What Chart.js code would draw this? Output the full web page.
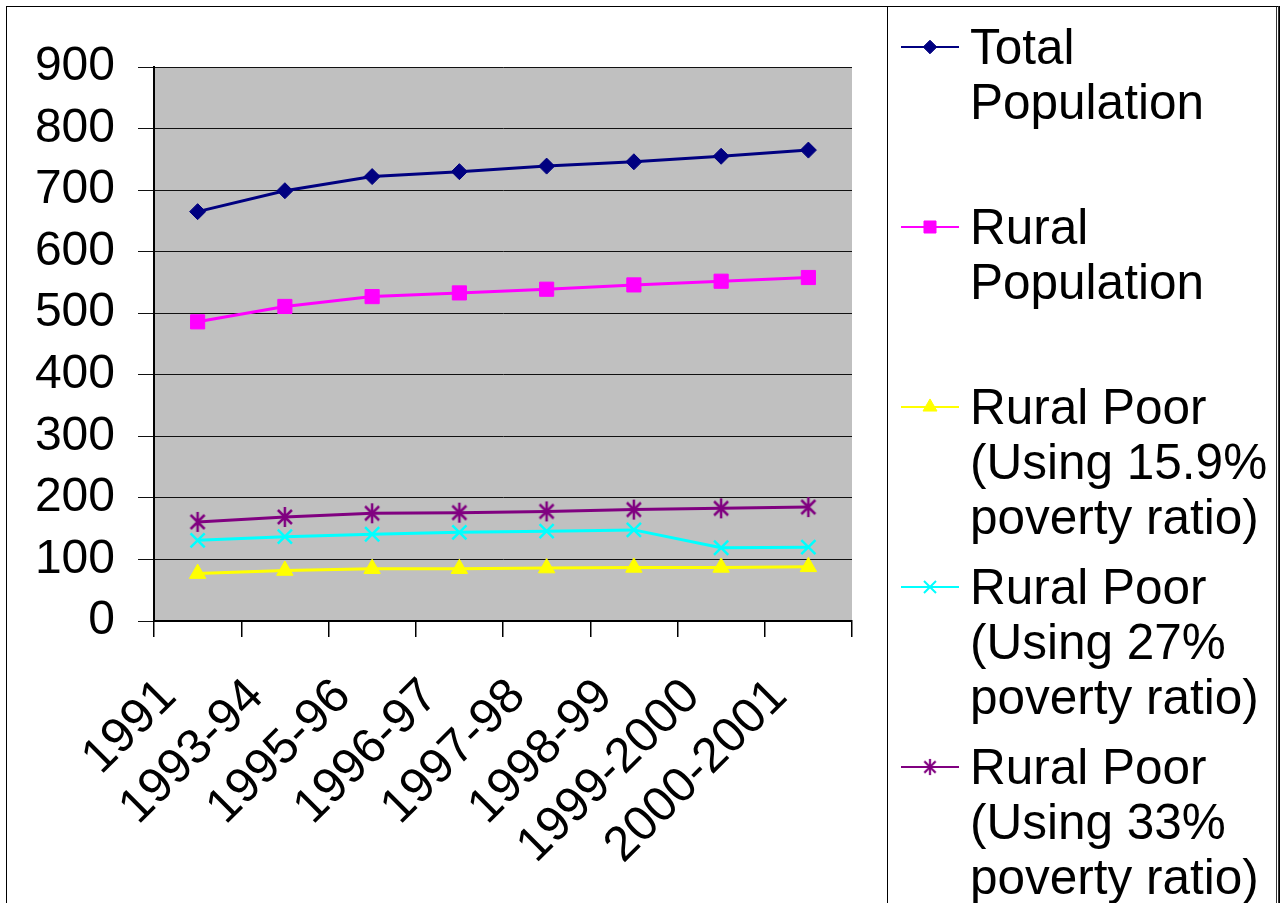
<!DOCTYPE html>
<html>
<head>
<meta charset="utf-8">
<script src="https://cdn.jsdelivr.net/npm/chart.js@4/dist/chart.umd.min.js"></script>
<style>
  html, body { margin: 0; padding: 0; background: #fff; overflow: hidden; }
  body { width: 1287px; height: 903px; position: relative; font-family: "Liberation Sans", Arial, sans-serif; }
  #frame { position: absolute; left: 6px; top: 6px; width: 1274px; height: 920px; border: 1px solid #000; box-sizing: border-box; }
  #chart { position: absolute; left: 0; top: 0; }
  #legend { position: absolute; left: 887px; top: 6px; width: 392px; height: 920px; border: 1px solid #000; border-right: 3px double #333; box-sizing: border-box; }
  .item { position: absolute; left: 0; width: 100%; }
  .item canvas { position: absolute; left: 13px; top: 17px; }
  .item .txt { position: absolute; left: 82px; top: 0; width: 310px; font-size: 49.5px; line-height: 55px; color: #000; }
</style>
</head>
<body>
<div id="frame"></div>
<canvas id="chart" width="1287" height="903"></canvas>
<div id="legend"></div>
<script>
// Categories and series (millions)
const years = ['1991', '1993-94', '1995-96', '1996-97', '1997-98', '1998-99', '1999-2000', '2000-2001'];
const totalPopulation = [665, 699, 722, 730, 739, 746, 755, 765];
const ruralPopulation = [486, 511, 527, 533, 539, 546, 552, 558];
const ruralPoor159 = [77, 82, 85, 85, 86, 87, 87, 88];
const ruralPoor27 = [131, 137, 141, 144, 146, 148, 119, 120];
const ruralPoor33 = [161, 169, 175, 176, 178, 181, 183, 185];
const yTicks = [0, 100, 200, 300, 400, 500, 600, 700, 800, 900];

const seriesLabels = [
  'Total Population',
  'Rural Population',
  'Rural Poor (Using 15.9% poverty ratio)',
  'Rural Poor (Using 27% poverty ratio)',
  'Rural Poor (Using 33% poverty ratio)'
];

// Asterisk marker (X with a vertical stroke)
function makeAsterisk(color) {
  const c = document.createElement('canvas');
  c.width = 20; c.height = 22;
  const g = c.getContext('2d');
  g.strokeStyle = color; g.lineWidth = 2.5; g.lineCap = 'butt';
  g.beginPath();
  g.moveTo(3, 4); g.lineTo(17, 18);
  g.moveTo(17, 4); g.lineTo(3, 18);
  g.moveTo(10, 1); g.lineTo(10, 21);
  g.stroke();
  return c;
}
const asterisk = makeAsterisk('#800080');

const FONT = '"Liberation Sans", Arial, sans-serif';

const plotBackground = {
  id: 'plotBackground',
  beforeDraw(chart) {
    const { ctx, chartArea: a } = chart;
    ctx.save();
    ctx.fillStyle = '#C0C0C0';
    ctx.fillRect(a.left, a.top, a.right - a.left, a.bottom - a.top);
    ctx.restore();
  }
};

function ds(label, data, color, style, radius, extra) {
  return Object.assign({
    label, data,
    borderColor: color, backgroundColor: color,
    pointBackgroundColor: color, pointBorderColor: color,
    borderWidth: 3, pointStyle: style, pointRadius: radius, pointHoverRadius: radius,
    pointBorderWidth: 1, tension: 0, fill: false
  }, extra || {});
}

const chart = new Chart(document.getElementById('chart'), {
  type: 'line',
  data: {
    labels: years,
    datasets: [
      ds(seriesLabels[0], totalPopulation, '#000080', 'rectRot', 8),
      ds(seriesLabels[1], ruralPopulation, '#FF00FF', 'rect', 10),
      ds(seriesLabels[2], ruralPoor159, '#FFFF00', 'triangle', 9.5),
      ds(seriesLabels[3], ruralPoor27, '#00FFFF', 'crossRot', 10, { pointBorderWidth: 2.5 }),
      ds(seriesLabels[4], ruralPoor33, '#800080', asterisk, 9)
    ]
  },
  options: {
    responsive: false,
    devicePixelRatio: 1,
    animation: false,
    layout: { padding: { top: 67, left: 0, right: 435, bottom: 0 } },
    plugins: { legend: { display: false }, tooltip: { enabled: false } },
    scales: {
      x: {
        offset: true,
        grid: { offset: true, drawOnChartArea: false, drawTicks: true, tickLength: 16, color: '#000', lineWidth: 1.5 },
        border: { color: '#000', width: 2 },
        ticks: {
          autoSkip: false, maxRotation: 45, minRotation: 45, padding: 31, labelOffset: -29,
          color: '#000', font: { family: FONT, size: 49 }
        },
        afterFit(s) { s.height = 282; }
      },
      y: {
        min: 0, max: 900,
        afterBuildTicks(s) { s.ticks = yTicks.map(v => ({ value: v })); },
        grid: { color: '#111', lineWidth: 1, tickLength: 16, drawTicks: true },
        border: { color: '#000', width: 2 },
        ticks: { padding: 23, color: '#000', font: { family: FONT, size: 48 } },
        afterFit(s) { s.width = 154; }
      }
    }
  },
  plugins: [plotBackground]
});

// Legend built from the chart's datasets
const legend = document.getElementById('legend');
chart.data.datasets.forEach((d, i) => {
  const item = document.createElement('div');
  item.className = 'item';
  item.style.top = (12 + i * 180) + 'px';
  const c = document.createElement('canvas');
  c.width = 58; c.height = 22;
  const g = c.getContext('2d');
  g.strokeStyle = d.borderColor; g.lineWidth = 2;
  g.beginPath(); g.moveTo(0, 11); g.lineTo(58, 11); g.stroke();
  g.fillStyle = d.pointBackgroundColor; g.strokeStyle = d.pointBorderColor;
  if (d.pointStyle instanceof HTMLCanvasElement) {
    g.drawImage(d.pointStyle, 29 - 8, 11 - 9, 16, 18);
  } else {
    g.lineWidth = d.pointStyle === 'crossRot' ? 2 : 1;
    Chart.helpers.drawPoint(g, { pointStyle: d.pointStyle, radius: d.pointRadius * 0.85, rotation: 0, borderWidth: g.lineWidth }, 29, 11);
  }
  const t = document.createElement('div');
  t.className = 'txt';
  t.textContent = d.label;
  item.appendChild(c);
  item.appendChild(t);
  legend.appendChild(item);
});
</script>
</body>
</html>
